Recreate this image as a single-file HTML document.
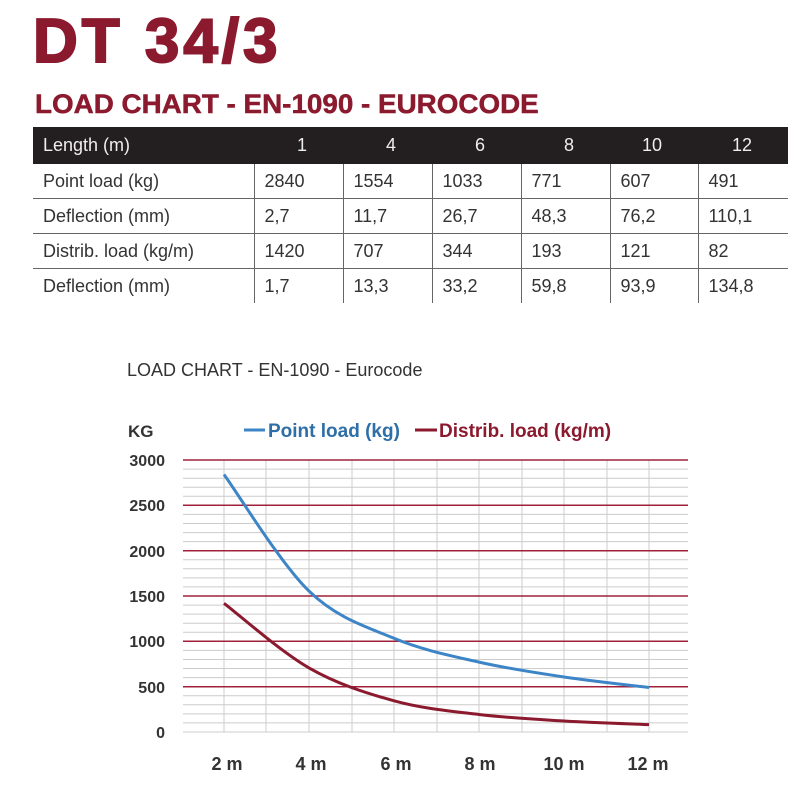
<!DOCTYPE html>
<html><head><meta charset="utf-8"><style>
body{margin:0;width:800px;height:800px;background:#fff;overflow:hidden;position:relative;font-family:"Liberation Sans",sans-serif}
.t{position:absolute;white-space:nowrap}
table{position:absolute;left:33px;top:127px;border-collapse:collapse;font-size:18px;color:#333}
td{height:34px;padding:0 0 0 10px;border-bottom:1.5px solid #666;border-left:1.5px solid #666}
td:first-child{border-left:none}
tr.h td{background:#231f20;color:#eee;border:none;height:37px}
tr.h td.n{text-align:right;padding-right:36px;padding-left:0}
</style></head><body>
<div class="t" style="left:33px;top:6px;font-size:62px;font-weight:bold;color:#8b1a2e;letter-spacing:4px;-webkit-text-stroke:2px #8b1a2e">DT 34/3</div>
<div class="t" style="left:35px;top:89px;font-size:27px;font-weight:bold;color:#8b1a2e;-webkit-text-stroke:0.5px #8b1a2e;transform:scaleX(1.03);transform-origin:left">LOAD CHART - EN-1090 - EUROCODE</div>
<table>
<colgroup><col style="width:221px"><col style="width:89px"><col style="width:89px"><col style="width:89px"><col style="width:89px"><col style="width:88px"><col style="width:90px"></colgroup>
<tr class="h"><td>Length (m)</td><td class="n">1</td><td class="n">4</td><td class="n">6</td><td class="n">8</td><td class="n">10</td><td class="n">12</td></tr>
<tr><td>Point load (kg)</td><td>2840</td><td>1554</td><td>1033</td><td>771</td><td>607</td><td>491</td></tr>
<tr><td>Deflection (mm)</td><td>2,7</td><td>11,7</td><td>26,7</td><td>48,3</td><td>76,2</td><td>110,1</td></tr>
<tr><td>Distrib. load (kg/m)</td><td>1420</td><td>707</td><td>344</td><td>193</td><td>121</td><td>82</td></tr>
<tr><td style="border-bottom:none">Deflection (mm)</td><td style="border-bottom:none">1,7</td><td style="border-bottom:none">13,3</td><td style="border-bottom:none">33,2</td><td style="border-bottom:none">59,8</td><td style="border-bottom:none">93,9</td><td style="border-bottom:none">134,8</td></tr>
</table>
<svg width="800" height="800" style="position:absolute;left:0;top:0" font-family="Liberation Sans, sans-serif">
<text x="127" y="376" font-size="18" fill="#333">LOAD CHART - EN-1090 - Eurocode</text>
<text x="128" y="437" font-size="17" font-weight="bold" fill="#333">KG</text>
<line x1="244" y1="430" x2="265" y2="430" stroke="#3d85c6" stroke-width="3"/>
<text x="268" y="437" font-size="19" font-weight="bold" fill="#2e6fa8">Point load (kg)</text>
<line x1="415" y1="430" x2="437" y2="430" stroke="#8b1a2e" stroke-width="3"/>
<text x="439" y="437" font-size="19" font-weight="bold" fill="#8b1a2e">Distrib. load (kg/m)</text>
<g stroke="#ccc" stroke-width="1">
<path d="M183 469.1H688M183 478.2H688M183 487.2H688M183 496.3H688M183 514.4H688M183 523.5H688M183 532.6H688M183 541.6H688M183 559.7H688M183 568.8H688M183 577.9H688M183 586.9H688M183 605.1H688M183 614.1H688M183 623.2H688M183 632.3H688M183 650.4H688M183 659.5H688M183 668.5H688M183 677.6H688M183 695.7H688M183 704.8H688M183 713.9H688M183 722.9H688M183 732H688"/>
<path d="M224 460V732M266 460V732M309 460V732M352 460V732M394 460V732M437 460V732M479 460V732M522 460V732M564 460V732M607 460V732M649 460V732"/>
</g>
<g stroke="#a0203a" stroke-width="1.5">
<path d="M183 460H688M183 505.3H688M183 550.7H688M183 596H688M183 641.3H688M183 686.7H688"/>
</g>
<g font-size="16" font-weight="bold" fill="#333" text-anchor="end">
<text x="165" y="466">3000</text><text x="165" y="511">2500</text><text x="165" y="557">2000</text><text x="165" y="602">1500</text><text x="165" y="647">1000</text><text x="165" y="693">500</text><text x="165" y="738">0</text>
</g>
<g font-size="18" font-weight="bold" fill="#333" text-anchor="middle">
<text x="227" y="770">2 m</text><text x="311" y="770">4 m</text><text x="396" y="770">6 m</text><text x="480" y="770">8 m</text><text x="564" y="770">10 m</text><text x="648" y="770">12 m</text>
</g>
<path fill="none" stroke="#3d85c6" stroke-width="3" d="M224 474.5C238.2 493.9 280.7 563.8 309 591.1C337.3 618.4 365.7 626.5 394 638.3C422.3 650.1 450.7 655.7 479 662.1C507.3 668.5 535.7 672.8 564 677C592.3 681.2 634.8 685.8 649 687.5"/>
<path fill="none" stroke="#8b1a2e" stroke-width="3" d="M224 603.3C238.2 614.1 280.7 651.7 309 667.9C337.3 684.1 365.7 693 394 700.8C422.3 708.6 450.7 711.1 479 714.5C507.3 717.9 535.7 719.3 564 721C592.3 722.7 634.8 724 649 724.6"/>
</svg>
</body></html>
